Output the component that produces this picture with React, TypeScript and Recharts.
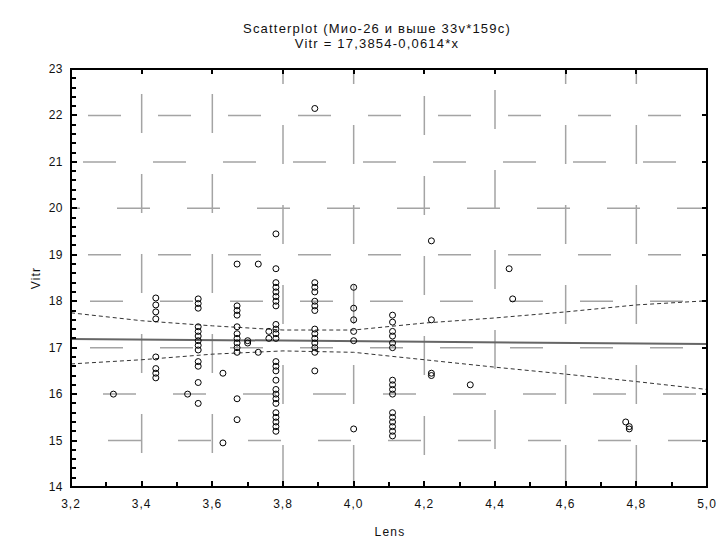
import React from 'react'
import { ScatterChart, Scatter, XAxis, YAxis, ReferenceLine } from 'recharts'

// Lens / Vitr pairs, read column by column
const lensValues = [
  3.32,
  3.44, 3.44, 3.44, 3.44, 3.44, 3.44, 3.44, 3.44,
  3.53,
  3.56, 3.56, 3.56, 3.56, 3.56, 3.56, 3.56, 3.56, 3.56, 3.56, 3.56, 3.56, 3.56,
  3.63, 3.63,
  3.67, 3.67, 3.67, 3.67, 3.67, 3.67, 3.67, 3.67, 3.67, 3.67, 3.67, 3.67,
  3.7, 3.7,
  3.73, 3.73,
  3.76, 3.76,
  3.78, 3.78, 3.78, 3.78, 3.78, 3.78, 3.78, 3.78, 3.78, 3.78, 3.78, 3.78, 3.78,
  3.78, 3.78, 3.78, 3.78, 3.78, 3.78, 3.78, 3.78, 3.78, 3.78, 3.78, 3.78,
  3.89, 3.89, 3.89, 3.89, 3.89, 3.89, 3.89, 3.89, 3.89, 3.89, 3.89, 3.89, 3.89, 3.89,
  4.0, 4.0, 4.0, 4.0, 4.0, 4.0,
  4.11, 4.11, 4.11, 4.11, 4.11, 4.11, 4.11, 4.11, 4.11, 4.11, 4.11, 4.11, 4.11, 4.11, 4.11, 4.11,
  4.22, 4.22, 4.22, 4.22,
  4.33,
  4.44, 4.45,
  4.77, 4.78, 4.78,
]
const vitrValues = [
  16.0,
  18.07, 17.92, 17.77, 17.62, 16.8, 16.55, 16.45, 16.35,
  16.0,
  18.05, 17.95, 17.85, 17.45, 17.35, 17.25, 17.15, 17.05, 16.95, 16.7, 16.6, 16.25, 15.8,
  16.45, 14.95,
  18.8, 17.9, 17.8, 17.7, 17.45, 17.3, 17.2, 17.1, 17.0, 16.9, 15.9, 15.45,
  17.15, 17.1,
  18.8, 16.9,
  17.35, 17.2,
  19.45, 18.7, 18.4, 18.3, 18.2, 18.1, 18.0, 17.9, 17.5, 17.4, 17.3, 17.2, 16.7,
  16.6, 16.5, 16.3, 16.1, 16.0, 15.9, 15.8, 15.6, 15.5, 15.4, 15.3, 15.2,
  22.15, 18.4, 18.3, 18.2, 18.0, 17.9, 17.8, 17.4, 17.3, 17.2, 17.1, 17.0, 16.9, 16.5,
  18.3, 17.85, 17.6, 17.35, 17.15, 15.25,
  17.7, 17.55, 17.35, 17.25, 17.1, 17.0, 16.3, 16.2, 16.1, 16.0, 15.6, 15.5, 15.4, 15.3, 15.2, 15.1,
  19.3, 17.6, 16.45, 16.4,
  16.2,
  18.7, 18.05,
  15.4, 15.3, 15.25,
]

// Vitr = 17,3854 - 0,0614 * Lens
const INTERCEPT = 17.3854
const SLOPE = -0.0614

// 95% confidence band of the fit
const bandLens = [3.2, 3.4, 3.6, 3.8, 4.0, 4.2, 4.4, 4.6, 4.8, 5.0]
const bandUpper = [17.75, 17.58, 17.47, 17.38, 17.38, 17.53, 17.64, 17.77, 17.92, 18.01]
const bandLower = [16.65, 16.74, 16.86, 16.93, 16.9, 16.74, 16.58, 16.43, 16.27, 16.1]

const X_MIN = 3.2
const X_MAX = 5.0
const Y_MIN = 14
const Y_MAX = 23
const xTicks = [3.2, 3.3, 3.4, 3.5, 3.6, 3.7, 3.8, 3.9, 4.0, 4.1, 4.2, 4.3, 4.4, 4.5, 4.6, 4.7, 4.8, 4.9, 5.0]
const xMajor = [3.2, 3.4, 3.6, 3.8, 4.0, 4.2, 4.4, 4.6, 4.8, 5.0]
const yMajor = [14, 15, 16, 17, 18, 19, 20, 21, 22, 23]
const yTicks = yMajor
  .slice(0, -1)
  .flatMap(v => [0, 0.2, 0.4, 0.6, 0.8].map(d => +(v + d).toFixed(1)))
  .concat(Y_MAX)

// dash phase of each grid line
const vGridOffset: Record<string, number> = {
  '3.4': 46, '3.6': 46, '3.8': 77, '4': 77, '4.2': 48, '4.4': 42, '4.6': 77, '4.8': 77,
}
const hGridOffset: Record<string, number> = {
  '15': 33, '16': 38, '17': 51, '18': 51, '19': 53, '20': 24, '21': 58, '22': 53,
}

const points = lensValues.map((x, i) => ({ x, y: vitrValues[i] }))
const fitLine = [X_MIN, X_MAX].map(x => ({ x, y: INTERCEPT + SLOPE * x }))
const upperBand = bandLens.map((x, i) => ({ x, y: bandUpper[i] }))
const lowerBand = bandLens.map((x, i) => ({ x, y: bandLower[i] }))

const W = 720
const H = 542
const MARGIN = { top: 69, right: 13, bottom: 25, left: 31 }
const Y_AXIS_W = 40
const X_AXIS_H = 30
// plot box shared by the chart and the frame layer on top of it
const PLOT = {
  x: MARGIN.left + Y_AXIS_W,
  y: MARGIN.top,
  w: W - MARGIN.left - Y_AXIS_W - MARGIN.right,
  h: H - MARGIN.top - MARGIN.bottom - X_AXIS_H,
}
const px = (v: number) => PLOT.x + ((v - X_MIN) / (X_MAX - X_MIN)) * PLOT.w
const py = (v: number) => PLOT.y + ((Y_MAX - v) / (Y_MAX - Y_MIN)) * PLOT.h

const FONT = '"Liberation Sans", Arial, sans-serif'
const INK = '#000'
const GRID = '#a4a4a4'

const fmtX = (v: number) => v.toFixed(1).replace('.', ',')
const isWhole = (v: number) => Math.abs(v - Math.round(v)) < 1e-6
const isEvenTenth = (v: number) => Math.round(v * 10) % 2 === 0

function BottomTick({ x, y, payload }: any) {
  if (!isEvenTenth(payload.value)) return <g />
  return (
    <text x={x} y={y + 21} textAnchor="middle" fontSize={12} fontFamily={FONT} letterSpacing={1} fill="#111">
      {fmtX(payload.value)}
    </text>
  )
}

function LeftTick({ x, y, payload }: any) {
  if (!isWhole(payload.value)) return <g />
  return (
    <text x={x - 8} y={y + 4} textAnchor="end" fontSize={12} fontFamily={FONT} letterSpacing={0.5} fill="#111">
      {payload.value}
    </text>
  )
}

const ring = ({ cx, cy }: any) => (
  <circle cx={cx} cy={cy} r={3} fill="none" stroke={INK} strokeWidth={1} />
)
const noDot = () => <g />

const textStyle: React.CSSProperties = {
  position: 'absolute',
  fontFamily: FONT,
  color: '#111',
  whiteSpace: 'nowrap',
  lineHeight: '15px',
  letterSpacing: 1.2,
}

// solid bar, used for the frame edges and tick marks
const bar = (key: string, x: number, y: number, w: number, h: number) => (
  <div key={key} style={{ position: 'absolute', left: x, top: y, width: w, height: h, background: INK }} />
)

// black box round the plot with short inward ticks on all four sides
function PlotFrame() {
  const bottom = PLOT.y + PLOT.h
  const right = PLOT.x + PLOT.w
  return (
    <div style={{ position: 'absolute', left: 0, top: 0, width: W, height: H, pointerEvents: 'none', zIndex: 2 }}>
      {bar('top', PLOT.x - 1, PLOT.y - 1, PLOT.w + 2, 2)}
      {bar('bottom', PLOT.x - 1, bottom - 1, PLOT.w + 2, 2)}
      {bar('left', PLOT.x - 1, PLOT.y - 1, 2, PLOT.h + 2)}
      {bar('right', right - 1, PLOT.y - 1, 2, PLOT.h + 2)}
      {xTicks.map(v => bar(`b${v}`, px(v) - 1, bottom - (isEvenTenth(v) ? 6 : 5), 2, 5))}
      {xMajor.map(v => bar(`t${v}`, px(v) - 1, PLOT.y, 2, 5))}
      {yTicks.map(v => bar(`l${v}`, PLOT.x, py(v) - 1, isWhole(v) ? 6 : 5, 2))}
      {yMajor.map(v => bar(`r${v}`, right - 5, py(v) - 1, 5, 2))}
    </div>
  )
}

export default function App() {
  return (
    <div style={{ position: 'absolute', left: 0, top: 0, width: W, height: H, background: '#fff' }}>
      <div style={{ ...textStyle, left: 0, width: 754, top: 21, textAlign: 'center', fontSize: 13 }}>
        Scatterplot (Мио-26 и выше 33v*159c)
        <br />
        Vitr = 17,3854-0,0614*x
      </div>
      <div style={{ ...textStyle, left: 0, width: 780, top: 525, textAlign: 'center', fontSize: 12 }}>Lens</div>
      <div
        style={{
          ...textStyle,
          left: 36,
          top: 278,
          fontSize: 12,
          transform: 'translate(-50%, -50%) rotate(-90deg)',
        }}
      >
        Vitr
      </div>

      <ScatterChart width={W} height={H} margin={MARGIN} style={{ position: 'absolute', left: 0, top: 0 }}>
        <XAxis
          type="number"
          dataKey="x"
          domain={[X_MIN, X_MAX]}
          ticks={xTicks}
          interval={0}
          height={X_AXIS_H}
          tickSize={0}
          tickMargin={0}
          axisLine={false}
          tick={<BottomTick />}
        />
        <YAxis
          type="number"
          dataKey="y"
          domain={[Y_MIN, Y_MAX]}
          ticks={yTicks}
          interval={0}
          width={Y_AXIS_W}
          tickSize={0}
          tickMargin={0}
          axisLine={false}
          tick={<LeftTick />}
        />

        {xMajor.slice(1, -1).map(v => (
          <ReferenceLine
            key={`v${v}`}
            x={v}
            stroke={GRID}
            strokeWidth={1.5}
            strokeDasharray="39 41"
            strokeDashoffset={vGridOffset[String(v)]}
          />
        ))}
        {yMajor.slice(1, -1).map(v => (
          <ReferenceLine
            key={`h${v}`}
            y={v}
            stroke={GRID}
            strokeWidth={1.5}
            strokeDasharray="33 37"
            strokeDashoffset={hGridOffset[String(v)]}
          />
        ))}

        <Scatter
          data={upperBand}
          line={{ stroke: '#333', strokeWidth: 1, strokeDasharray: '4 3' }}
          shape={noDot}
          isAnimationActive={false}
        />
        <Scatter
          data={lowerBand}
          line={{ stroke: '#333', strokeWidth: 1, strokeDasharray: '4 3' }}
          shape={noDot}
          isAnimationActive={false}
        />
        <Scatter
          data={fitLine}
          line={{ stroke: '#666', strokeWidth: 2 }}
          shape={noDot}
          isAnimationActive={false}
        />
        <Scatter data={points} shape={ring} isAnimationActive={false} />
      </ScatterChart>

      <PlotFrame />
    </div>
  )
}
